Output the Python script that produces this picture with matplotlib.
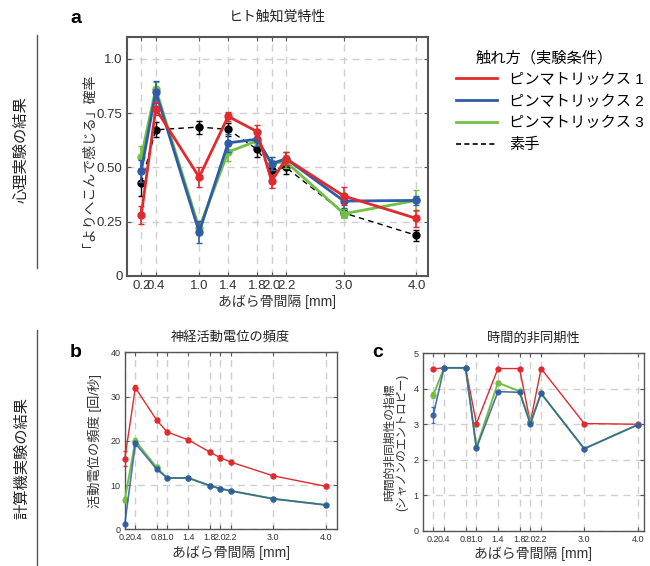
import numpy as np
import matplotlib
matplotlib.use("Agg")
import matplotlib.pyplot as plt
from matplotlib.lines import Line2D

plt.rcParams['font.family'] = ['Liberation Sans', 'Noto Sans CJK JP', 'DejaVu Sans']

# --- data -------------------------------------------------------------
# a: human tactile perception
x_a = [0.2, 0.4, 1.0, 1.4, 1.8, 2.0, 2.2, 3.0, 4.0]
red_a = [0.28, 0.77, 0.455, 0.735, 0.665, 0.437, 0.54, 0.368, 0.265]
blue_a = [0.483, 0.848, 0.202, 0.613, 0.63, 0.517, 0.54, 0.345, 0.348]
green_a = [0.548, 0.862, 0.22, 0.571, 0.622, 0.52, 0.525, 0.287, 0.348]
black_a = [0.428, 0.673, 0.686, 0.675, 0.583, 0.49, 0.50, 0.29, 0.187]
red_a_err = [0.04, 0.03, 0.045, 0.02, 0.03, 0.03, 0.03, 0.04, 0.04]
blue_a_err = [0.05, 0.05, 0.05, 0.04, 0.03, 0.03, 0.03, 0.03, 0.02]
green_a_err = [0.05, 0.03, 0.03, 0.04, 0.02, 0.03, 0.03, 0.02, 0.05]
black_a_err = [0.06, 0.035, 0.03, 0.03, 0.035, 0.03, 0.03, 0.02, 0.025]

# b: firing frequency
x_b = [0.2, 0.4, 0.8, 1.0, 1.4, 1.8, 2.0, 2.2, 3.0, 4.0]
red_b = [16.0, 32.0, 24.7, 22.0, 20.2, 17.5, 16.2, 15.2, 12.1, 9.7]
blue_b = [1.2, 19.4, 13.6, 11.6, 11.6, 9.9, 9.2, 8.7, 6.9, 5.5]
green_b = [6.7, 20.0, 14.0, 11.6, 11.6, 9.9, 9.2, 8.7, 6.9, 5.5]
red_b_err = [1.8, 0.6, 0.5, 0.5, 0.5, 0.5, 0.5, 0.4, 0.3, 0.3]
blue_b_err = [0.3, 0.6, 0.5, 0.3, 0.4, 0.3, 0.3, 0.3, 0.2, 0.2]
green_b_err = [0.6, 0.6, 0.5, 0.3, 0.4, 0.3, 0.3, 0.3, 0.2, 0.2]

# c: temporal asynchrony (Shannon entropy)
x_c = [0.2, 0.4, 0.8, 1.0, 1.4, 1.8, 2.0, 2.2, 3.0, 4.0]
red_c = [4.56, 4.59, 4.59, 3.02, 4.57, 4.57, 3.05, 4.57, 3.02, 3.0]
blue_c = [3.26, 4.59, 4.59, 2.32, 3.92, 3.9, 3.0, 3.87, 2.31, 2.99]
green_c = [3.82, 4.59, 4.59, 2.35, 4.17, 3.93, 3.05, 3.87, 2.31, 2.99]
blue_c_err = [0.22, 0.02, 0.02, 0.02, 0.02, 0.02, 0.02, 0.02, 0.02, 0.02]
green_c_err = [0.08, 0.02, 0.02, 0.02, 0.04, 0.02, 0.02, 0.02, 0.02, 0.02]
red_c_err = [0.02] * 10

RED = '#e02a2e'
BLUE = '#2f5ca8'
GREEN = '#72c043'
GRID = '#cfcfcf'
SPINE = '#555555'
XLABEL = 'あばら骨間隔 [mm]'


def style_axes(ax, xticks, yticks, yticklabels, lw, fs):
    ax.set_xticks(xticks)
    ax.set_xticklabels([f'{v:.1f}' for v in xticks], fontsize=fs)
    ax.set_yticks(yticks)
    ax.set_yticklabels(yticklabels, fontsize=fs)
    ax.grid(True, color=GRID, linestyle=(0, (5, 4)), linewidth=1.0)
    ax.set_axisbelow(True)
    ax.tick_params(direction='in', top=True, right=True, length=3,
                   color=SPINE, labelcolor='#333333', pad=3)
    for s in ax.spines.values():
        s.set_color(SPINE)
        s.set_linewidth(lw)


fig = plt.figure(figsize=(6.5, 5.66), dpi=100)

# --- panel a ----------------------------------------------------------
ax1 = fig.add_axes([0.195, 0.5124, 0.4635, 0.422])
ax1.errorbar(x_a, black_a, yerr=black_a_err, color='black', ls=(0, (4, 3)),
             lw=1.0, marker='o', ms=5, capsize=2.5, elinewidth=1.0, zorder=3)
ax1.errorbar(x_a, green_a, yerr=green_a_err, color=GREEN, lw=2, marker='o',
             ms=5, capsize=2.5, elinewidth=1.2, zorder=4)
ax1.errorbar(x_a, blue_a, yerr=blue_a_err, color=BLUE, lw=2, marker='o',
             ms=5, capsize=2.5, elinewidth=1.2, zorder=5)
ax1.errorbar(x_a, red_a, yerr=red_a_err, color=RED, lw=2, marker='o',
             ms=5, capsize=2.5, elinewidth=1.2, zorder=6)
ax1.set_xlim(0.0, 4.16)
ax1.set_ylim(0, 1.1)
style_axes(ax1, x_a, [0, 0.25, 0.5, 0.75, 1.0],
           ['0', '0.25', '0.50', '0.75', '1.0'], 1.5, 9.5)
ax1.set_xlabel(XLABEL, fontsize=10, color='#333333', labelpad=2)
ax1.set_ylabel('「よりへこんで感じる」確率', fontsize=10, color='#333333',
               labelpad=6)
ax1.set_title('ヒト触知覚特性', fontsize=10, color='#222222', pad=12)
fig.text(0.108, 0.967, 'a', fontsize=14, fontweight='bold', ha='left',
         va='center')

# legend
handles = [Line2D([], [], color=RED, lw=2),
           Line2D([], [], color=BLUE, lw=2),
           Line2D([], [], color=GREEN, lw=2),
           Line2D([], [], color='black', lw=1.2, ls=(0, (3, 2)))]
labels = ['ピンマトリックス 1', 'ピンマトリックス 2', 'ピンマトリックス 3', '素手']
leg = fig.legend(handles, labels, loc='upper left',
                 bbox_to_anchor=(0.68, 0.935), frameon=False, fontsize=11,
                 title='触れ方（実験条件）', title_fontsize=11,
                 handlelength=2.7, labelspacing=0.5, handletextpad=0.8)
leg._legend_box.align = 'left'
leg.get_title().set_position((20, 0))

# --- panel b ----------------------------------------------------------
ax2 = fig.add_axes([0.192, 0.0648, 0.326, 0.3127])
ax2.errorbar(x_b, green_b, yerr=green_b_err, color=GREEN, lw=1.4,
             marker='o', ms=3.5, capsize=1.5, elinewidth=0.9, zorder=3,
             clip_on=False)
ax2.errorbar(x_b, blue_b, yerr=blue_b_err, color=BLUE, lw=1.2, alpha=0.85,
             marker='o', ms=3.5, capsize=1.5, elinewidth=0.9, zorder=4,
             clip_on=False)
ax2.errorbar(x_b, red_b, yerr=red_b_err, color=RED, lw=1.0, marker='o',
             ms=3.5, capsize=1.5, elinewidth=0.9, zorder=5, clip_on=False)
ax2.set_xlim(0.2, 4.2)
ax2.set_ylim(0, 40)
style_axes(ax2, x_b, [0, 10, 20, 30, 40], ['0', '10', '20', '30', '40'],
           1.0, 6.5)
ax2.set_xlabel(XLABEL, fontsize=10, color='#333333', labelpad=2)
ax2.set_ylabel('活動電位の頻度 [回/秒]', fontsize=9.5, color='#333333',
               labelpad=6)
ax2.set_title('神経活動電位の頻度', fontsize=9.5, color='#222222', pad=8)
fig.text(0.108, 0.378, 'b', fontsize=14, fontweight='bold', ha='left',
         va='center')

# --- panel c ----------------------------------------------------------
ax3 = fig.add_axes([0.650, 0.0624, 0.340, 0.3134])
ax3.errorbar(x_c, green_c, yerr=green_c_err, color=GREEN, lw=1.4,
             marker='o', ms=3.5, capsize=1.5, elinewidth=0.9, zorder=3)
ax3.errorbar(x_c, blue_c, yerr=blue_c_err, color=BLUE, lw=1.2, alpha=0.85,
             marker='o', ms=3.5, capsize=1.5, elinewidth=0.9, zorder=4)
ax3.errorbar(x_c, red_c, yerr=red_c_err, color=RED, lw=1.0, marker='o',
             ms=3.5, capsize=1.5, elinewidth=0.9, zorder=2)
ax3.set_xlim(0.0, 4.1)
ax3.set_ylim(0, 5)
style_axes(ax3, x_c, [0, 1, 2, 3, 4, 5], ['0', '1', '2', '3', '4', '5'],
           1.0, 6.5)
ax3.set_xlabel(XLABEL, fontsize=10, color='#333333', labelpad=2)
ax3.set_ylabel('時間的非同期性の指標\n(シャノンのエントロピー)', fontsize=8.5,
               color='#333333', labelpad=4, linespacing=1.0)
ax3.set_title('時間的非同期性', fontsize=9.5, color='#222222', pad=8)
fig.text(0.572, 0.378, 'c', fontsize=14, fontweight='bold', ha='left',
         va='center')

# --- left section labels ----------------------------------------------
fig.add_artist(Line2D([0.057, 0.057], [1 - 35 / 566, 1 - 268 / 566],
                      color='#555555', lw=1.0))
fig.add_artist(Line2D([0.057, 0.057], [1 - 330 / 566, 0.0],
                      color='#555555', lw=1.0))
fig.text(0.034, 1 - 150 / 566, '心理実験の結果', rotation=90, fontsize=11,
         ha='center', va='center', color='#222222')
fig.text(0.034, 1 - 458 / 566, '計算機実験の結果', rotation=90, fontsize=11,
         ha='center', va='center', color='#222222')

fig.savefig('out.png', dpi=100)
